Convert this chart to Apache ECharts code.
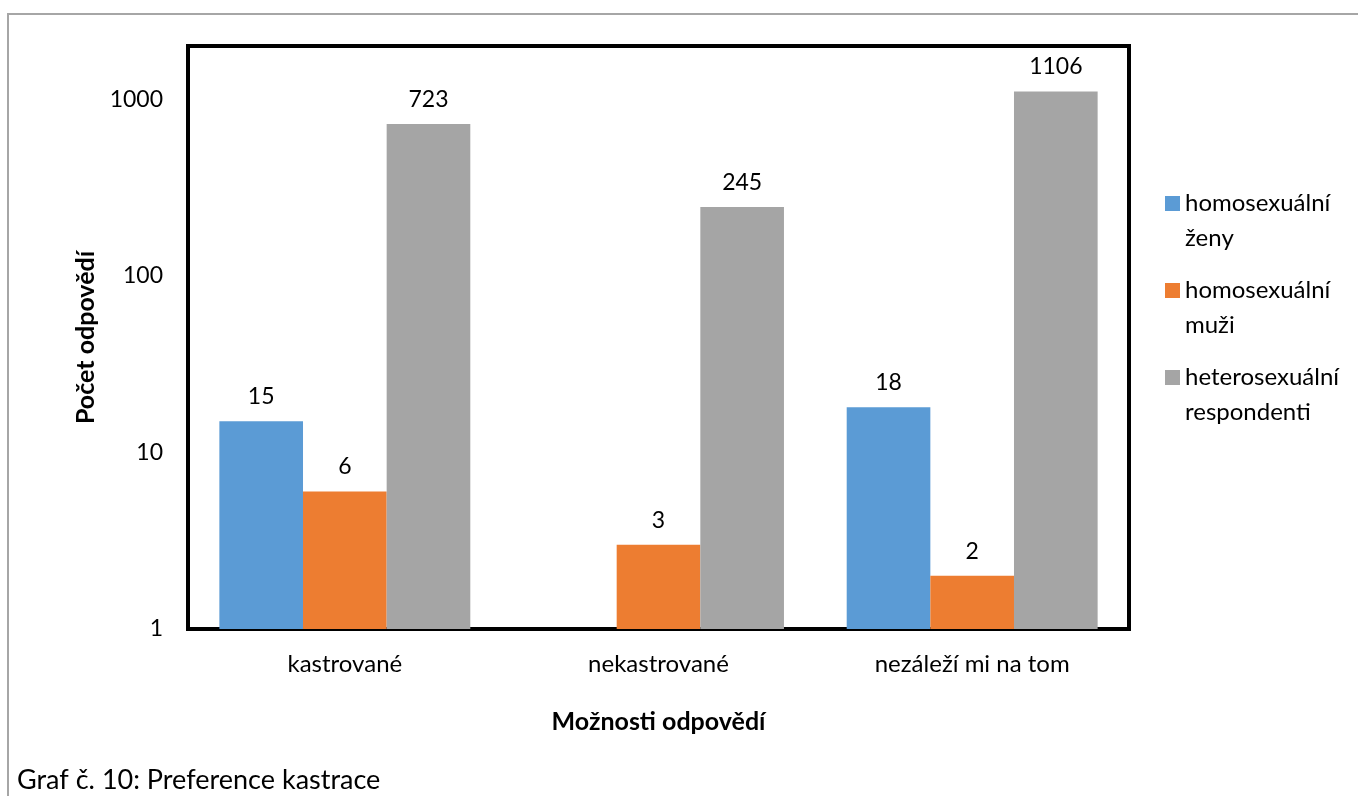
<!DOCTYPE html>
<html>
<head>
<meta charset="utf-8">
<title>Graf č. 10: Preference kastrace</title>
<script src="https://cdn.jsdelivr.net/npm/echarts@6/dist/echarts.min.js"></script>
<style>
  html, body { margin: 0; padding: 0; background: #fff; }
  #chart { width: 1358px; height: 796px; }
</style>
</head>
<body>
<div id="chart"></div>
<script>
const categories = ['kastrované', 'nekastrované', 'nezáleží mi na tom'];
const seriesNames = ['homosexuální\nženy', 'homosexuální\nmuži', 'heterosexuální\nrespondenti'];
const homoZeny = [15, null, 18];
const homoMuzi = [6, 3, 2];
const hetero = [723, 245, 1106];
const yTicks = [1, 10, 100, 1000];

(function () {
  const chart = echarts.init(document.getElementById('chart'));
  const font = 'Lato, "Noto Sans", sans-serif';
  const colors = ['#5B9BD5', '#ED7D31', '#A5A5A5'];
  const values = [homoZeny, homoMuzi, hetero];

  function isTick(v) {
    return yTicks.some(t => Math.abs(v - t) / t < 1e-6);
  }

  chart.setOption({
    animation: false,
    color: colors,
    textStyle: { fontFamily: font },
    title: {
      text: 'Graf č. 10: Preference kastrace',
      left: 12,
      top: 762,
      textStyle: { fontFamily: font, fontSize: 27, fontWeight: 'normal', color: '#000' }
    },
    graphic: [{
      type: 'rect',
      shape: { x: 8, y: 14, width: 1400, height: 900 },
      style: { fill: 'none', stroke: '#a6a6a6', lineWidth: 2 },
      silent: true
    }],
    legend: {
      orient: 'vertical',
      left: 1160,
      top: 181,
      itemWidth: 15,
      itemHeight: 70,
      itemGap: 17,
      icon: 'path://M0,0L0.01,0M0,70L0.01,70M0,10L15,10L15,25L0,25Z',
      textStyle: { fontFamily: font, fontSize: 24, lineHeight: 35, color: '#000' },
      data: seriesNames
    },
    grid: {
      left: 188,
      right: 229,
      top: 46,
      bottom: 167,
      show: true,
      borderColor: '#000',
      borderWidth: 4,
      containLabel: false
    },
    xAxis: {
      type: 'category',
      data: categories,
      name: 'Možnosti odpovědí',
      nameLocation: 'middle',
      nameGap: 80,
      nameTextStyle: { fontFamily: font, fontSize: 25, fontWeight: 'bold', color: '#000' },
      axisLine: { show: false },
      axisTick: { show: false },
      axisLabel: { fontFamily: font, fontSize: 24, color: '#000', margin: 23 }
    },
    yAxis: {
      type: 'log',
      logBase: 10,
      min: 1,
      max: 2000,
      name: 'Počet odpovědí',
      nameLocation: 'middle',
      nameGap: 88,
      nameTextStyle: { fontFamily: font, fontSize: 25, fontWeight: 'bold', color: '#000' },
      axisLine: { show: false },
      axisTick: { show: false },
      splitLine: { show: false },
      axisLabel: {
        fontFamily: font,
        fontSize: 23,
        color: '#000',
        margin: 25,
        showMaxLabel: false,
        formatter: v => (isTick(v) ? String(Math.round(v)) : '')
      }
    },
    series: seriesNames.map((name, i) => ({
      name: name,
      type: 'bar',
      data: values[i],
      barGap: '0%',
      barCategoryGap: '20%',
      label: {
        show: true,
        position: 'top',
        distance: 13,
        fontFamily: font,
        fontSize: 23,
        color: '#000'
      }
    }))
  });

  window.addEventListener('resize', () => chart.resize());
})();
</script>
</body>
</html>
